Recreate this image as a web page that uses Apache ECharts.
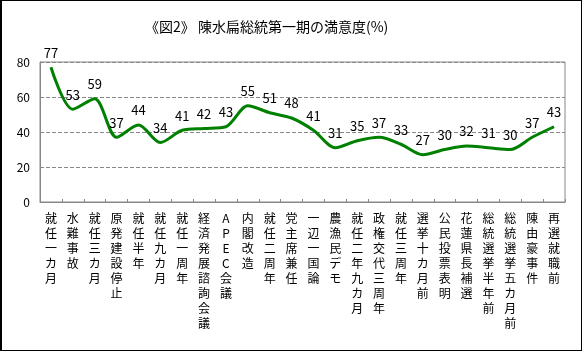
<!DOCTYPE html>
<html>
<head>
<meta charset="utf-8">
<script src="https://cdn.jsdelivr.net/npm/echarts@6/dist/echarts.min.js"></script>
<style>
  html, body { margin: 0; padding: 0; background: #fff; }
  #chart { width: 582px; height: 351px; box-sizing: border-box; border: 1px solid #000; border-left-width: 2px; }
</style>
</head>
<body>
<div id="chart"></div>
<script>
var categories = [
  '就任一カ月', '水難事故', '就任三カ月', '原発建設停止', '就任半年', '就任九カ月',
  '就任一周年', '経済発展諮詢会議', 'APEC会議', '内閣改造', '就任二周年', '党主席兼任',
  '一辺一国論', '農漁民デモ', '就任二年九カ月', '政権交代三周年', '就任三周年', '選挙十カ月前',
  '公民投票表明', '花蓮県長補選', '総統選挙半年前', '総統選挙五カ月前', '陳由豪事件', '再選就職前'
];
var satisfaction = [77, 53, 59, 37, 44, 34, 41, 42, 43, 55, 51, 48, 41, 31, 35, 37, 33, 27, 30, 32, 31, 30, 37, 43];
var yTicks = [0, 20, 40, 60, 80];

var font = '"Noto Sans CJK JP", "Noto Sans", sans-serif';
var chart = echarts.init(document.getElementById('chart'));
chart.setOption({
  animation: false,
  textStyle: { fontFamily: font },
  title: {
    text: '《図2》 陳水扁総統第一期の満意度(%)',
    left: 138,
    top: 14,
    textStyle: { fontSize: 14, fontWeight: 'normal', color: '#000', fontFamily: font }
  },
  grid: {
    left: 38, right: 16, top: 61, bottom: 148,
    show: true, borderColor: '#888', borderWidth: 1
  },
  xAxis: {
    type: 'category',
    data: categories,
    boundaryGap: true,
    axisLine: { lineStyle: { color: '#888' } },
    axisTick: { show: true, inside: true, length: 3, lineStyle: { color: '#888' } },
    axisLabel: {
      interval: 0,
      margin: 9,
      color: '#000',
      fontSize: 12,
      lineHeight: 15,
      fontFamily: font,
      formatter: function (v) { return v.split('').join('\n'); }
    }
  },
  yAxis: {
    type: 'value',
    min: yTicks[0],
    max: yTicks[yTicks.length - 1],
    interval: 20,
    axisLine: { show: true, lineStyle: { color: '#888' } },
    axisTick: { show: false },
    axisLabel: { color: '#000', fontSize: 12, margin: 10, fontFamily: font },
    splitLine: { show: true, lineStyle: { color: '#888', type: 'dashed' } }
  },
  series: [{
    type: 'line',
    data: satisfaction,
    smooth: 0.3,
    showSymbol: true,
    symbol: 'circle',
    symbolSize: 0,
    lineStyle: { color: '#008000', width: 3 },
    itemStyle: { color: '#008000' },
    label: {
      show: true,
      position: 'top',
      distance: 8,
      color: '#000',
      fontSize: 13,
      fontFamily: font
    }
  }]
});
</script>
</body>
</html>
